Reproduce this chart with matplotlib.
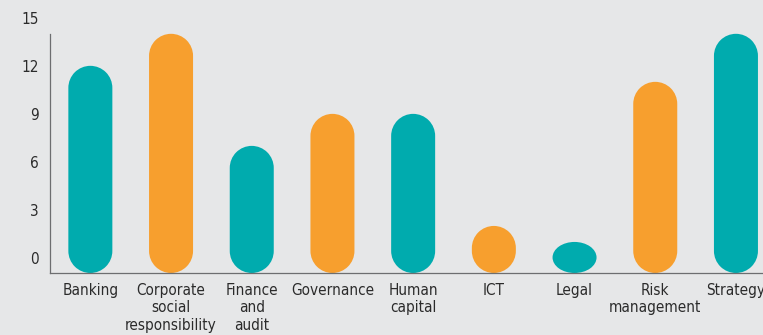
import numpy as np
import matplotlib.pyplot as plt
from matplotlib.path import Path
from matplotlib.patches import PathPatch

categories = ["Banking", "Corporate\nsocial\nresponsibility", "Finance\nand\naudit",
              "Governance", "Human\ncapital", "ICT", "Legal", "Risk\nmanagement", "Strategy"]
values = [12, 14, 7, 9, 9, 2, 1, 11, 14]
colors = ["#00abae", "#f79f2e", "#00abae", "#f79f2e", "#00abae",
          "#f79f2e", "#00abae", "#f79f2e", "#00abae"]
yticks = [0, 3, 6, 9, 12, 15]

bg = "#e6e7e8"
W, H = 763, 335
fig = plt.figure(figsize=(W / 100, H / 100), dpi=100, facecolor=bg)

# axes runs past the right edge, like the original
spacing = 80.7
ax = fig.add_axes([50 / W, 62 / H, spacing * 9 / W, 260 / H])
ax.set_facecolor(bg)

y0 = -0.94
ax.set_xlim(-0.5, 8.5)
ax.set_ylim(y0, 15.3)

px_x = spacing            # px per x unit
px_y = 260 / (15.3 - y0)  # px per y unit
bw_px = 44
rx = bw_px / 2 / px_x


def pill(xc, bot, top, rx, ry):
    # rounded bar: top half-ellipse, straight sides, bottom half-ellipse
    up = Path.arc(0, 180)
    dn = Path.arc(180, 360)
    v1 = up.vertices * [rx, ry] + [xc, top]
    v2 = dn.vertices * [rx, ry] + [xc, bot]
    c2 = dn.codes.copy()
    c2[0] = Path.LINETO
    verts = np.vstack([v1, v2, v1[:1]])
    codes = np.concatenate([up.codes, c2, [Path.CLOSEPOLY]])
    return Path(verts, codes)


for i, (v, c) in enumerate(zip(values, colors)):
    h_px = (v - y0) * px_y
    ry = min(bw_px / 2, h_px / 2) / px_y
    p = pill(i, y0 + ry, v - ry, rx, ry)
    ax.add_patch(PathPatch(p, facecolor=c, edgecolor="none", clip_on=False))

for s in ["top", "right"]:
    ax.spines[s].set_visible(False)
for s in ["left", "bottom"]:
    ax.spines[s].set_color("#6d6e70")
    ax.spines[s].set_linewidth(0.9)
ax.spines["left"].set_bounds(y0, 14)

font = dict(family="DejaVu Sans", stretch="condensed", size=11, color="#2b2b2b")
ax.set_yticks(yticks)
ax.set_yticklabels([str(t) for t in yticks], **font)
ax.set_xticks(range(len(categories)))
ax.set_xticklabels(categories, linespacing=1.22, **font)
ax.tick_params(axis="y", length=0, pad=8)
ax.tick_params(axis="x", length=0, pad=7)

fig.savefig("out.png", dpi=100, facecolor=bg)
